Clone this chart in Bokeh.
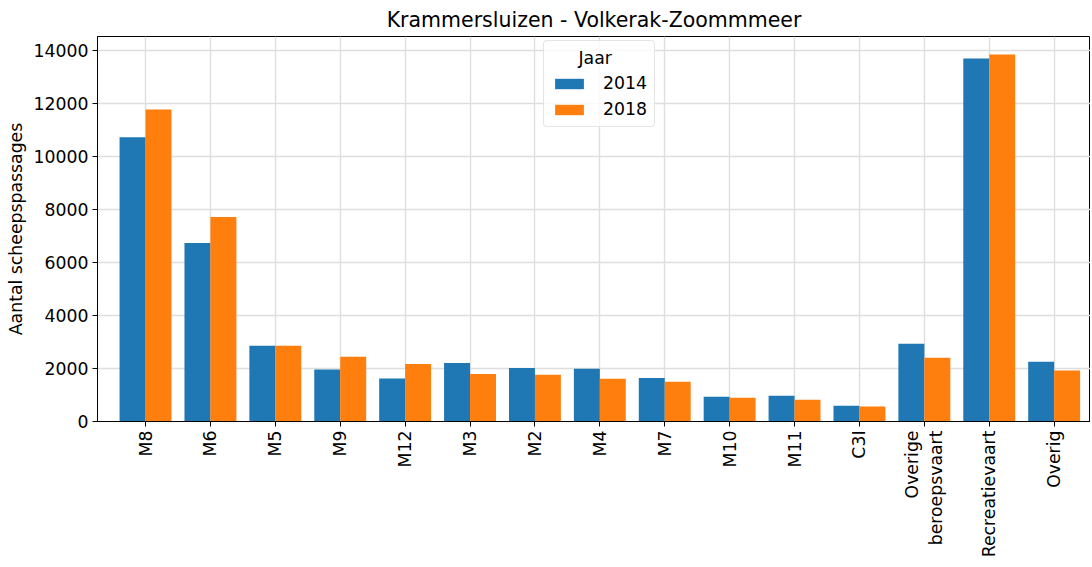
from bokeh.plotting import figure
from bokeh.models import ColumnDataSource, Range1d, FixedTicker, Legend, LegendItem
from bokeh.embed import file_html
from bokeh.resources import INLINE
import math

categories = ["M8", "M6", "M5", "M9", "M12", "M3", "M2", "M4", "M7", "M10", "M11", "C3I",
              "Overige\nberoepsvaart", "Recreatievaart", "Overig"]
values_2014 = [10720, 6730, 2860, 1960, 1620, 2210, 2020, 1985, 1645, 930, 970, 590, 2935, 13690, 2255]
values_2018 = [11770, 7710, 2860, 2445, 2170, 1795, 1760, 1610, 1495, 895, 820, 565, 2405, 13840, 1920]
years = ["2014", "2018"]
colors = ["#1f77b4", "#ff7f0e"]

FONT = "DejaVu Sans"
n = len(categories)
xs = list(range(n))

p = figure(width=1090, height=567, output_backend="svg", toolbar_location=None,
           x_range=Range1d(-0.74, 14.56), y_range=Range1d(0, 14520),
           min_border_left=97, min_border_right=0, min_border_top=35, min_border_bottom=146)

src1 = ColumnDataSource(dict(x=[x - 0.2 for x in xs], top=values_2014))
src2 = ColumnDataSource(dict(x=[x + 0.2 for x in xs], top=values_2018))
r1 = p.vbar(x="x", top="top", width=0.4, source=src1, fill_color=colors[0], line_color=None)
r2 = p.vbar(x="x", top="top", width=0.4, source=src2, fill_color=colors[1], line_color=None)

p.title.text = "Krammersluizen - Volkerak-Zoommmeer"
p.title.align = "center"
p.title.text_font = FONT
p.title.text_font_size = "20.5px"
p.title.text_font_style = "normal"
p.title.text_color = "#000000"

p.xaxis.ticker = FixedTicker(ticks=xs)
p.xaxis.major_label_overrides = {i: c for i, c in enumerate(categories)}
p.xaxis.major_label_orientation = math.pi / 2
p.yaxis.ticker = FixedTicker(ticks=[0, 2000, 4000, 6000, 8000, 10000, 12000, 14000])
p.yaxis.axis_label = "Aantal scheepspassages"

for ax in (p.xaxis, p.yaxis):
    ax.major_label_text_font = FONT
    ax.major_label_text_font_size = "17.3px"
    ax.major_label_text_color = "#000000"
    ax.axis_line_color = "#000000"
    ax.major_tick_line_color = "#000000"
    ax.major_tick_out = 5
    ax.major_tick_in = 0
    ax.minor_tick_line_color = None
    ax.axis_label_text_font = FONT
    ax.axis_label_text_font_size = "17.3px"
    ax.axis_label_text_font_style = "normal"
    ax.axis_label_text_color = "#000000"
    ax.major_label_standoff = 4

p.xgrid.grid_line_color = "#dedede"
p.ygrid.grid_line_color = "#dedede"
p.xgrid.grid_line_width = 1.4
p.ygrid.grid_line_width = 1.4
p.outline_line_color = "#000000"
p.outline_line_width = 1

legend = Legend(items=[LegendItem(label=years[0], renderers=[r1]),
                       LegendItem(label=years[1], renderers=[r2])],
                location=(446, 294))
legend.title = "     Jaar"
legend.title_text_font = FONT
legend.title_text_font_size = "17.3px"
legend.title_text_font_style = "normal"
legend.title_text_color = "#000000"
legend.label_text_font = FONT
legend.label_text_font_size = "17.3px"
legend.label_text_color = "#000000"
legend.glyph_width = 36
legend.glyph_height = 13
legend.label_standoff = 16
legend.spacing = 6
legend.padding = 7
legend.border_line_color = "#cccccc"
legend.border_radius = 4
legend.background_fill_alpha = 0.8
p.add_layout(legend)

open("out.html", "w").write(file_html(p, INLINE))
